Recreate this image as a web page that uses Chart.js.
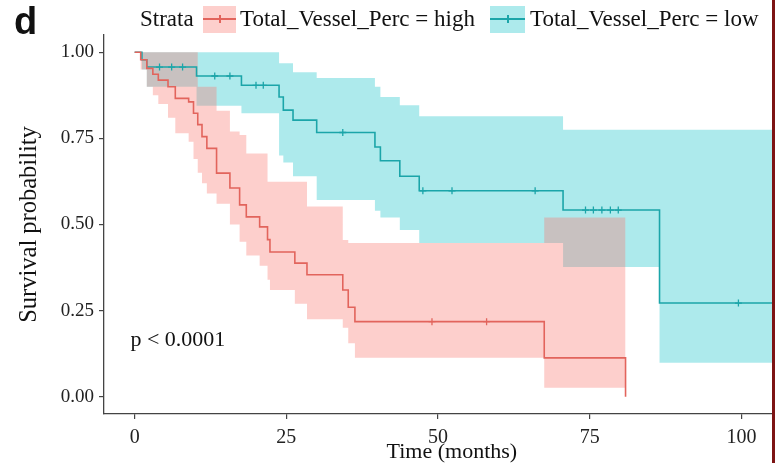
<!DOCTYPE html>
<html>
<head>
<meta charset="utf-8">
<script src="https://cdn.jsdelivr.net/npm/chart.js@4.4.1/dist/chart.umd.min.js"></script>
<style>
  body { margin: 0; background: #fff; }
  #wrap { position: relative; width: 775px; height: 463px; overflow: hidden; background: #fff; }
  #chart { position: absolute; left: 0; top: 0; }
  .serif { font-family: 'Liberation Serif', 'Times New Roman', serif; font-size: 23px; color: #111; position: absolute; line-height: 26px; white-space: nowrap; }
  .tag { position: absolute; left: 14px; top: 0px; font: bold 38px 'Liberation Sans', Arial, sans-serif; color: #111; }
  .key { position: absolute; top: 6px; height: 27px; }
  .key .ln { position: absolute; left: 0; right: 0; top: 12px; height: 2px; }
  .key .tk { position: absolute; left: 50%; top: 9px; width: 2px; height: 8px; margin-left: -1px; }
  .edge { position: absolute; left: 772px; top: 0; width: 3px; height: 463px; background: #7d1414; }
</style>
</head>
<body>
<div id="wrap">
  <canvas id="chart" width="805" height="463"></canvas>
  <div class="tag">d</div>
  <div class="serif" style="left:140px; top:6px;">Strata</div>
  <div class="key" style="left:203px; width:33px; background:rgba(248,118,109,0.35);">
    <div class="ln" style="background:#E2645C"></div><div class="tk" style="background:#E2645C"></div>
  </div>
  <div class="serif" style="left:240px; top:6px;">Total_Vessel_Perc = high</div>
  <div class="key" style="left:490px; width:35px; background:rgba(0,191,196,0.32);">
    <div class="ln" style="background:#1BA5A9"></div><div class="tk" style="background:#1BA5A9"></div>
  </div>
  <div class="serif" style="left:530px; top:6px;">Total_Vessel_Perc = low</div>
  <div class="edge"></div>
</div>
<script>
// axis ticks
const xTicks = [0, 25, 50, 75, 100];
const yTicks = [0, 0.25, 0.5, 0.75, 1];

// high group: event times, survival and confidence band
const highTime  = [0, 1.0, 2.0, 3.0, 3.9, 5.5, 6.7, 8.9, 9.7, 10.4, 11.1, 11.9, 13.5, 15.7, 17.3, 18.4, 20.6, 21.9, 22.3, 26.4, 28.4, 34.3, 35.2, 36.3, 67.5, 80.9];
const highSurv  = [1, 0.978, 0.953, 0.936, 0.919, 0.9, 0.866, 0.856, 0.823, 0.79, 0.755, 0.721, 0.649, 0.606, 0.557, 0.522, 0.493, 0.456, 0.42, 0.388, 0.354, 0.31, 0.26, 0.218, 0.113, 0];
const highLower = [1, 0.95, 0.9, 0.875, 0.85, 0.81, 0.765, 0.74, 0.69, 0.65, 0.62, 0.59, 0.56, 0.5, 0.45, 0.41, 0.38, 0.34, 0.31, 0.27, 0.225, 0.2, 0.155, 0.113, 0.026, 0.026];
const highUpper = [1, 1, 1, 1, 1, 1, 1, 1, 1, 0.9, 0.9, 0.9, 0.83, 0.77, 0.76, 0.706, 0.706, 0.624, 0.624, 0.624, 0.552, 0.455, 0.446, 0.446, 0.52, 0.52];
const highCensor = [49, 58];

// low group
const lowTime  = [0, 1.2, 2.0, 10.2, 17.6, 23.8, 24.5, 26.1, 30.0, 39.6, 40.5, 43.7, 46.9, 70.6, 86.5, 106];
const lowSurv  = [1, 0.978, 0.957, 0.931, 0.904, 0.87, 0.832, 0.803, 0.767, 0.725, 0.685, 0.64, 0.598, 0.542, 0.272, 0.272];
const lowLower = [1, 0.95, 0.9, 0.845, 0.823, 0.7, 0.68, 0.64, 0.571, 0.54, 0.52, 0.484, 0.446, 0.377, 0.099, 0.099];
const lowUpper = [1, 1, 1, 1, 1, 0.968, 0.968, 0.942, 0.925, 0.9, 0.87, 0.846, 0.814, 0.775, 0.775, 0.775];
const lowCensor = [4.1, 6.1, 7.9, 13.2, 15.7, 20, 21.2, 34.3, 47.5, 52.3, 66, 74.3, 75.6, 77, 78.4, 79.7, 99.5];

const pValueText = 'p < 0.0001';
const pValueAt = [-0.7, 0.165];

const serif = "'Liberation Serif', 'Times New Roman', serif";
const highLine = '#E2645C', lowLine = '#1BA5A9';
const highFill = 'rgba(248,118,109,0.35)', lowFill = 'rgba(0,191,196,0.32)';

function pts(times, vals) {
    return times.map((t, i) => ({ x: t, y: vals[i] }));
}

// survival value at a censor time
function survAt(times, surv, t) {
    let v = surv[0];
    for (let i = 0; i < times.length; i++) {
        if (times[i] <= t) v = surv[i];
    }
    return v;
}

function censorPts(cens, times, surv) {
    return cens.map(t => ({ x: t, y: survAt(times, surv, t) }));
}

const pLabel = {
    id: 'pLabel',
    afterDatasetsDraw(chart) {
        const ctx = chart.ctx;
        ctx.save();
        ctx.font = '22px ' + serif;
        ctx.fillStyle = '#111';
        ctx.textAlign = 'left';
        ctx.textBaseline = 'middle';
        ctx.fillText(pValueText, chart.scales.x.getPixelForValue(pValueAt[0]), chart.scales.y.getPixelForValue(pValueAt[1]));
        ctx.restore();
    }
};

const stepLine = (data, color) => ({
    data, borderColor: color, borderWidth: 1.6, stepped: 'before',
    pointRadius: 0, fill: false
});
const band = (data, color, fillTo) => ({
    data, borderWidth: 0, borderColor: 'rgba(0,0,0,0)', backgroundColor: color,
    stepped: 'before', pointRadius: 0, fill: fillTo
});
const censor = (data, color) => ({
    data, showLine: false, pointStyle: 'cross', pointRadius: 3.5,
    pointBorderWidth: 1.3, borderColor: color, pointBorderColor: color
});

new Chart(document.getElementById('chart'), {
    type: 'line',
    data: {
        datasets: [
            censor(censorPts(highCensor, highTime, highSurv), highLine),
            censor(censorPts(lowCensor, lowTime, lowSurv), lowLine),
            stepLine(pts(highTime, highSurv), highLine),
            stepLine(pts(lowTime, lowSurv), lowLine),
            band(pts(highTime, highLower), highFill, false),
            band(pts(highTime, highUpper), highFill, '-1'),
            band(pts(lowTime, lowLower), lowFill, false),
            band(pts(lowTime, lowUpper), lowFill, '-1')
        ]
    },
    options: {
        responsive: false,
        animation: false,
        layout: { padding: { top: 35, right: 0, left: 0, bottom: 0 } },
        plugins: { legend: { display: false }, tooltip: { enabled: false } },
        scales: {
            x: {
                type: 'linear', min: -5.05, max: 109.6,
                afterBuildTicks: s => { s.ticks = xTicks.map(v => ({ value: v })); },
                afterFit: s => { s.height = 49; },
                grid: { drawOnChartArea: false, tickLength: 5, color: '#444', lineWidth: 1.2 },
                border: { display: true, color: '#444', width: 1.3 },
                ticks: { font: { family: serif, size: 20 }, color: '#222', padding: 7, maxRotation: 0 },
                title: { display: true, text: 'Time (months)', font: { family: serif, size: 22, lineHeight: 1 }, color: '#111', padding: { top: 0, bottom: 0 } }
            },
            y: {
                min: -0.05, max: 1.05,
                afterBuildTicks: s => { s.ticks = yTicks.map(v => ({ value: v })); },
                afterFit: s => { s.width = 104; },
                grid: { drawOnChartArea: false, tickLength: 5, color: '#444', lineWidth: 1.2 },
                border: { display: true, color: '#444', width: 1.3 },
                ticks: { font: { family: serif, size: 19 }, color: '#222', padding: 5, callback: v => v.toFixed(2) },
                title: { display: true, text: 'Survival probability', font: { family: serif, size: 24.5 }, color: '#111', padding: { top: 15, bottom: 0 } }
            }
        }
    },
    plugins: [pLabel]
});
</script>
</body>
</html>
